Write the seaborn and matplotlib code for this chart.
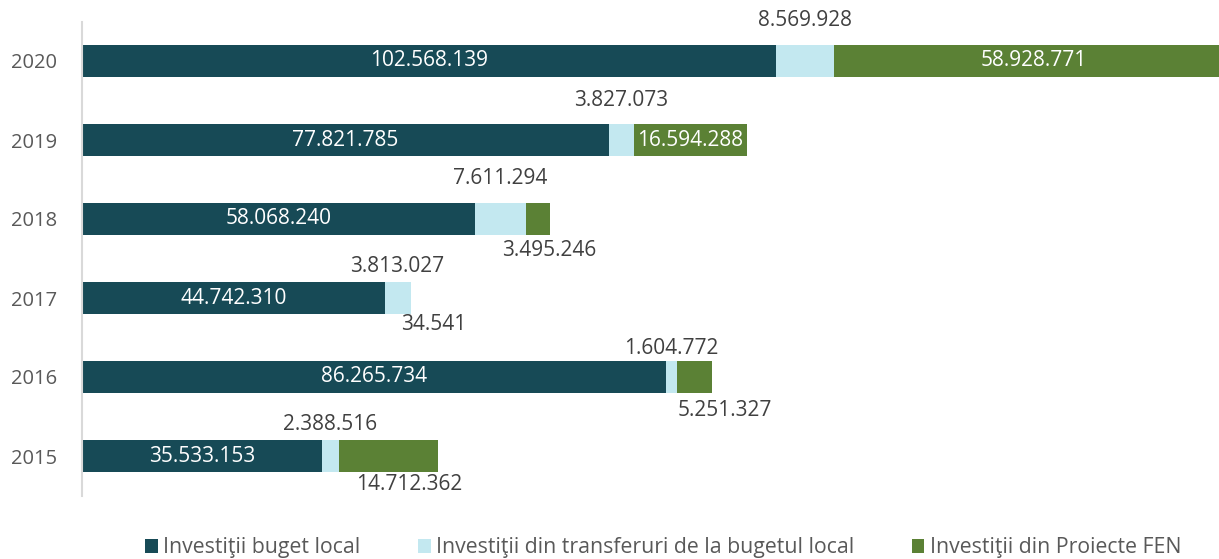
import matplotlib
matplotlib.use("Agg")
import matplotlib.pyplot as plt
from matplotlib.patches import Patch
import seaborn as sns
import pandas as pd

# Investment amounts per year (lei), top row first
years = ["2020", "2019", "2018", "2017", "2016", "2015"]
buget_local = [102568139, 77821785, 58068240, 44742310, 86265734, 35533153]
transferuri = [8569928, 3827073, 7611294, 3813027, 1604772, 2388516]
proiecte_fen = [58928771, 16594288, 3495246, 34541, 5251327, 14712362]

series_names = [
    "Investiţii buget local",
    "Investiţii din transferuri de la bugetul local",
    "Investiţii din Proiecte FEN",
]
colors = ["#174A56", "#C3E8F0", "#5B8135"]

# Label placement (pixels from bar centre)
transfer_dy = [40, 40, 40, 32, 28, 31]
fen_inside = [True, True, False, False, False, False]
fen_dx = [0, 0, 11, 23, 31, 21]
fen_dy = [0, 0, 31, 27, 34, 28]

sns.set_theme(style="white")
plt.rcParams["font.family"] = ["Open Sans", "DejaVu Sans"]

df = pd.DataFrame({
    "an": years,
    "local": buget_local,
    "transfer": transferuri,
    "fen": proiecte_fen,
})
df["cum_transfer"] = df["local"] + df["transfer"]
df["cum_fen"] = df["cum_transfer"] + df["fen"]

fig = plt.figure(figsize=(12.19, 5.59), dpi=100)
ax = fig.add_axes([82 / 1219, 63.5 / 559, 1 - 82 / 1219, 474 / 559])

# Stacked bars drawn as overlapping cumulative totals
for col, color in zip(["cum_fen", "cum_transfer", "local"], colors[::-1]):
    sns.barplot(data=df, x=col, y="an", order=years, orient="h",
                color=color, width=0.4, saturation=1, ax=ax, linewidth=0)

ax.set_xlim(0, 168.05e6)
ax.set_ylim(5.5, -0.5)
ax.set_xlabel("")
ax.set_ylabel("")
ax.set_xticks([])
for s in ["top", "right", "bottom"]:
    ax.spines[s].set_visible(False)
ax.spines["left"].set_color("#D9D9D9")
ax.spines["left"].set_linewidth(1.5)
ax.tick_params(axis="y", length=0, pad=18, labelsize=14.5, labelcolor="#595959")


def fmt(v):
    return f"{v:,}".replace(",", ".")


label_kw = dict(ha="center", va="center", fontsize=15, textcoords="offset pixels")
for i, row in df.iterrows():
    ax.annotate(fmt(row["local"]), (row["local"] / 2, i), xytext=(0, 0),
                color="white", **label_kw)
    ax.annotate(fmt(row["transfer"]), (row["local"] + row["transfer"] / 2, i),
                xytext=(0, transfer_dy[i]), color="#404040", **label_kw)
    fx = row["cum_transfer"] + row["fen"] / 2
    if fen_inside[i]:
        ax.annotate(fmt(row["fen"]), (fx, i), xytext=(0, 0),
                    color="white", **label_kw)
    else:
        ax.annotate(fmt(row["fen"]), (fx, i), xytext=(fen_dx[i], -fen_dy[i]),
                    color="#404040", **label_kw)

handles = [Patch(facecolor=c, edgecolor="none") for c in colors]
fig.legend(handles, series_names, loc="center", bbox_to_anchor=(663 / 1219, 11 / 559),
           ncol=3, frameon=False, fontsize=15.3, labelcolor="#595959",
           handlelength=0.61, handleheight=0.61, handletextpad=0.25, columnspacing=2.7)

fig.savefig("out.png", dpi=100)
